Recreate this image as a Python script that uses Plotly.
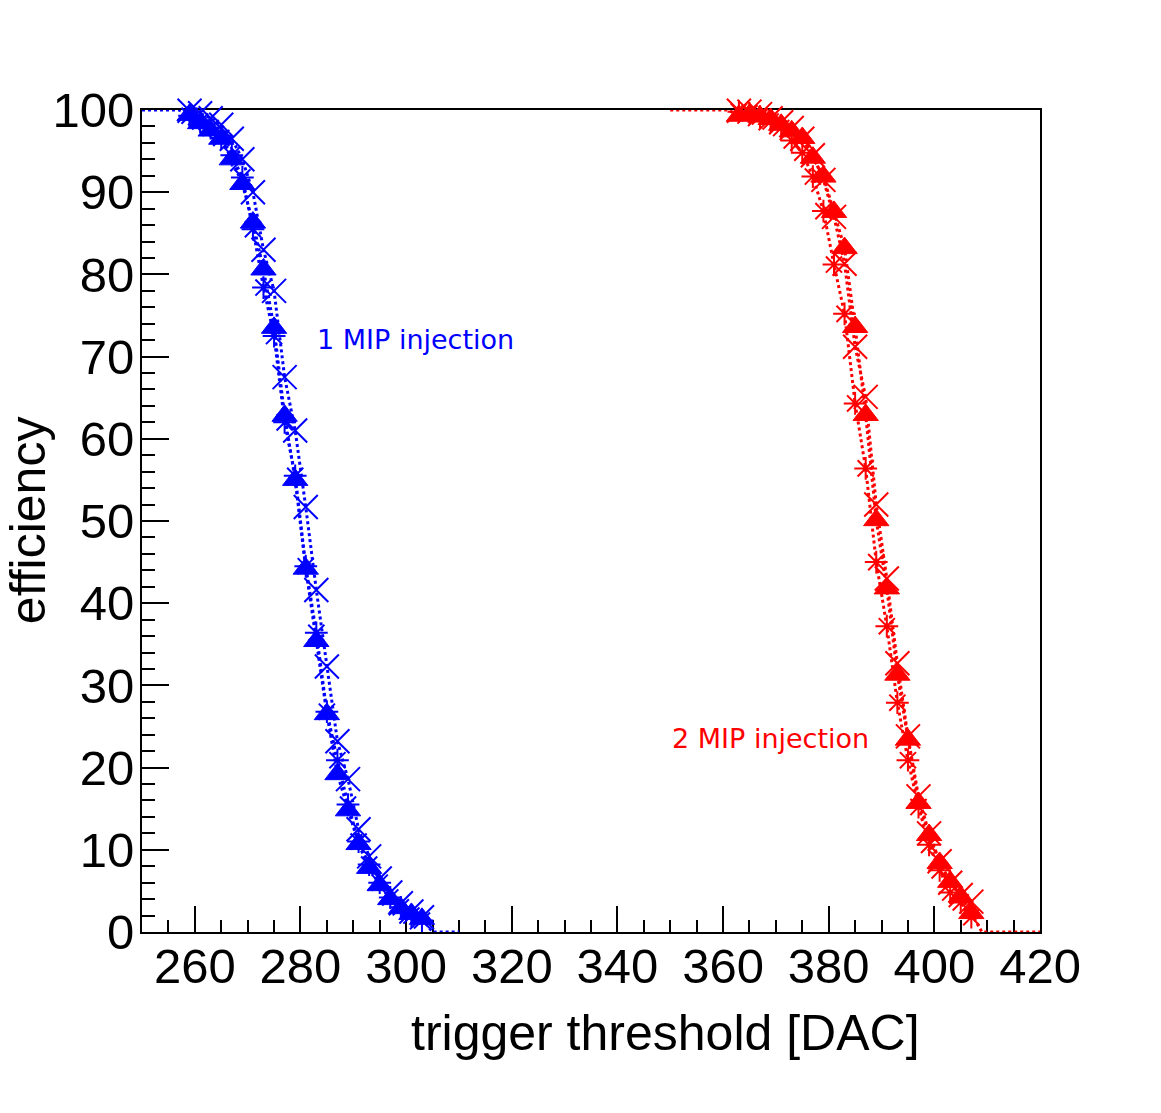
import plotly.graph_objects as go

# ---------------- data ----------------
blue_x = [259, 261, 263, 265, 267, 269, 271, 273, 275, 277, 279, 281,
          283, 285, 287, 289, 291, 293, 295, 297, 299, 301, 303]
blue_tri = [99.4, 98.4, 97.5, 96.5, 94.0, 91.0, 86.3, 80.6, 73.5, 62.8, 55.0, 44.2,
            35.4, 26.5, 19.2, 14.8, 10.7, 7.8, 5.7, 4.0, 2.9, 2.2, 1.6]
blue_xm = [99.9, 99.6, 99.0, 98.2, 96.5, 94.0, 90.0, 83.0, 78.0, 67.5, 61.0, 51.7,
           41.6, 32.3, 23.2, 18.6, 12.5, 9.2, 6.5, 4.8, 3.5, 2.5, 1.8]
blue_ast = [99.3, 98.6, 97.8, 96.6, 94.5, 91.8, 85.5, 78.4, 72.5, 62.0, 55.5, 44.5,
            36.4, 26.8, 20.9, 15.5, 11.0, 8.2, 6.0, 4.2, 3.0, 2.0, 1.4]
blue_top_x = [250, 257]
blue_bot_x = [305, 310]

red_x = [363, 365, 367, 369, 371, 373, 375, 377, 379, 381, 383, 385,
         387, 389, 391, 393, 395, 397, 399, 401, 403, 405, 407]
red_tri = [99.3, 99.4, 99.2, 98.9, 98.2, 97.4, 96.6, 94.2, 91.9, 87.6, 83.2, 73.6,
           62.9, 50.1, 41.8, 31.3, 23.4, 15.7, 11.8, 8.4, 6.1, 4.3, 2.3]
red_xm = [99.9, 99.8, 99.5, 99.0, 98.5, 97.8, 96.5, 94.5, 91.5, 87.0, 81.3, 71.2,
          65.1, 52.0, 43.0, 32.7, 23.8, 16.5, 12.0, 8.6, 6.0, 4.5, 3.7]
red_ast = [99.8, 99.6, 99.2, 98.6, 97.8, 96.3, 94.8, 91.9, 87.7, 81.2, 75.2, 64.3,
           56.4, 45.0, 37.2, 27.9, 20.9, 15.2, 10.6, 7.5, 4.8, 3.6, 1.8]
red_top_x = [350, 361]
red_bot_x = [409, 420]

x_title = "trigger threshold [DAC]"
y_title = "efficiency"
label_1mip = "1 MIP injection"
label_2mip = "2 MIP injection"

# ---------------- figure ----------------
fig = go.Figure()

def add_group(color, xs, tri, xm, ast, top_x, bot_x):
    fig.add_trace(go.Scatter(
        x=xs, y=xm, mode="lines+markers",
        line=dict(color=color, width=3, dash="dot"),
        marker=dict(symbol="x-thin-open", size=24, color=color, opacity=1,
                    line=dict(color=color, width=2)),
        cliponaxis=False, showlegend=False))
    fig.add_trace(go.Scatter(
        x=xs, y=ast, mode="lines+markers",
        line=dict(color=color, width=3, dash="dot"),
        marker=dict(symbol="asterisk-open", size=19, color=color, opacity=1,
                    line=dict(color=color, width=2)),
        cliponaxis=False, showlegend=False))
    # triangle series, with the flat plateau regions drawn as line only
    fig.add_trace(go.Scatter(
        x=list(top_x) + [xs[0]], y=[100] * len(top_x) + [tri[0]], mode="lines",
        line=dict(color=color, width=3, dash="dot"), showlegend=False))
    fig.add_trace(go.Scatter(
        x=[xs[-1]] + list(bot_x), y=[tri[-1]] + [0] * len(bot_x), mode="lines",
        line=dict(color=color, width=3, dash="dot"), showlegend=False))
    fig.add_trace(go.Scatter(
        x=xs, y=tri, mode="lines+markers",
        line=dict(color=color, width=3, dash="dot"),
        marker=dict(symbol="triangle-up", size=22, color=color, opacity=1,
                    line=dict(color=color, width=1)),
        cliponaxis=False, showlegend=False))

add_group("#0000ff", blue_x, blue_tri, blue_xm, blue_ast, blue_top_x, blue_bot_x)
add_group("#ff0000", red_x, red_tri, red_xm, red_ast, red_top_x, red_bot_x)

tickfont = dict(family="Liberation Sans, Arial, sans-serif", size=49, color="black")

fig.update_xaxes(
    range=[250, 420], dtick=20, tick0=0,
    ticks="inside", ticklen=26, tickwidth=2, tickcolor="black",
    minor=dict(dtick=5, ticks="inside", ticklen=12, tickwidth=2, tickcolor="black"),
    showline=True, linecolor="black", linewidth=2, mirror=True,
    showgrid=False, zeroline=False, tickfont=tickfont, layer="below traces",
    ticklabelstandoff=-10)
fig.update_yaxes(
    range=[0, 100], dtick=10, tick0=0,
    ticks="inside", ticklen=27, tickwidth=2, tickcolor="black",
    minor=dict(dtick=2, ticks="inside", ticklen=13, tickwidth=2, tickcolor="black"),
    showline=True, linecolor="black", linewidth=2, mirror=True,
    showgrid=False, zeroline=False, tickfont=tickfont, layer="below traces",
    ticklabelstandoff=-4)

titlefont = dict(family="Liberation Sans, Arial, sans-serif", size=50, color="black")
annfont = dict(family="DejaVu Sans, sans-serif", size=27)

fig.update_layout(
    width=1161, height=1113,
    margin=dict(l=142, r=121, t=110, b=181),
    paper_bgcolor="white", plot_bgcolor="white",
    showlegend=False,
    annotations=[
        dict(text=x_title, xref="paper", yref="paper", x=0.5835, y=-0.1229,
             showarrow=False, font=titlefont, xanchor="center", yanchor="middle"),
        dict(text=y_title, xref="paper", yref="paper", x=-0.127, y=0.501,
             showarrow=False, font=titlefont, textangle=-90,
             xanchor="center", yanchor="middle"),
        dict(text=label_1mip, x=301.7, y=72.1, xref="x", yref="y",
             showarrow=False, font=dict(annfont, color="#0000ff")),
        dict(text=label_2mip, x=368.9, y=23.5, xref="x", yref="y",
             showarrow=False, font=dict(annfont, color="#ff0000")),
    ],
)

fig.write_html("out.html")
